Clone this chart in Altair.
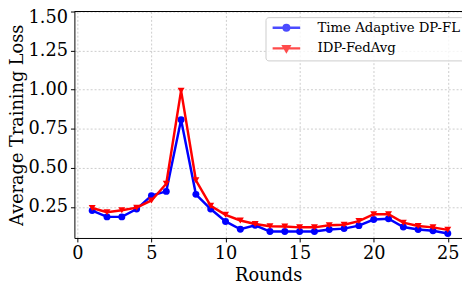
import altair as alt
import pandas as pd

rounds = list(range(1, 26))
time_adaptive = [0.227, 0.187, 0.187, 0.237, 0.323, 0.350, 0.808, 0.331, 0.237, 0.158,
                 0.108, 0.133, 0.093, 0.093, 0.093, 0.093, 0.106, 0.112, 0.131, 0.170,
                 0.175, 0.122, 0.106, 0.098, 0.081]
idp_fedavg = [0.244, 0.217, 0.229, 0.246, 0.292, 0.399, 0.994, 0.421, 0.258, 0.200,
              0.164, 0.141, 0.127, 0.125, 0.120, 0.120, 0.133, 0.137, 0.160, 0.204,
              0.204, 0.150, 0.129, 0.120, 0.104]
series_names = ["Time Adaptive DP-FL", "IDP-FedAvg"]
colors = ["#0000ff", "#ff0000"]
shapes = ["circle", "triangle-down"]
x_ticks = [0, 5, 10, 15, 20, 25]
y_ticks = [0.25, 0.5, 0.75, 1.0, 1.25, 1.5]

# legend glyphs: a short line with the marker in its middle (unit coordinates)
legend_glyphs = [
    "M-4,0H4M-0.8,0A0.8,0.8,0,1,1,0.8,0A0.8,0.8,0,1,1,-0.8,0Z",
    "M-4,0H4M-0.85,-0.6L0.85,-0.6L0,0.85Z",
]

rows = []
for name, vals in zip(series_names, [time_adaptive, idp_fedavg]):
    for r, v in zip(rounds, vals):
        rows.append({"round": r, "loss": v, "series": name})
df = pd.DataFrame(rows)

FONT = "DejaVu Serif"

x_enc = alt.X("round:Q",
              scale=alt.Scale(domain=[-0.2, 25.96], nice=False, zero=False),
              axis=alt.Axis(values=x_ticks, format="d", title="Rounds",
                            labelPadding=3))
y_enc = alt.Y("loss:Q",
              scale=alt.Scale(domain=[0.052, 1.5], nice=False, zero=False),
              axis=alt.Axis(values=y_ticks, format=".2f", title="Average Training Loss",
                            titlePadding=2, labelPadding=3, labelFlush=True,
                            labelFlushOffset=3))

legend = alt.Legend(orient="none", legendX=194.25, legendY=5.7, title=None,
                    symbolSize=49, symbolStrokeWidth=2.5, symbolOffset=10.5,
                    labelOffset=24.75,
                    labelFontSize=13.5, labelFont=FONT, labelColor="black",
                    fillColor="rgba(255,255,255,0.8)", strokeColor="#cccccc",
                    cornerRadius=3, padding=4, rowPadding=5)

stroke_enc = alt.Stroke("series:N", scale=alt.Scale(domain=series_names, range=colors),
                        legend=legend)
fill_enc = alt.Fill("series:N", scale=alt.Scale(domain=series_names, range=colors),
                    legend=legend)
shape_enc = alt.Shape("series:N", scale=alt.Scale(domain=series_names, range=legend_glyphs),
                      legend=legend)

base = alt.Chart(df)
layers = []
for name, shp in zip(series_names, shapes):
    sub = base.transform_filter(alt.datum.series == name)
    layers.append(sub.mark_line(strokeWidth=2.5).encode(x=x_enc, y=y_enc, stroke=stroke_enc))
    layers.append(sub.mark_point(filled=True, size=50, opacity=1, shape=shp).encode(
        x=x_enc, y=y_enc, fill=fill_enc))

# carries only the legend glyph scale; draws no marks
legend_layer = base.transform_filter("false").mark_point(filled=True).encode(
    x=x_enc, y=y_enc, fill=fill_enc, stroke=stroke_enc, shape=shape_enc)

top_spine = alt.Chart(pd.DataFrame({"y": [1.5]})).mark_rule(color="black", strokeWidth=1.2).encode(
    y=alt.Y("y:Q"))

chart = alt.layer(*layers, legend_layer, top_spine).properties(
    width=394, height=230.2,
    autosize=alt.AutoSizeParams(type="none"),
    padding={"left": 67.5, "top": 1.3, "right": 0, "bottom": 45.5},
).configure_view(stroke=None).configure_axis(
    labelFont=FONT, titleFont=FONT, labelFontSize=18, titleFontSize=18,
    titleFontWeight="normal", labelColor="black", titleColor="black",
    domainColor="black", domainWidth=1, tickColor="black", tickSize=4, tickWidth=1,
    gridColor="#b0b0b0", gridDash=[2, 2], gridWidth=0.8, gridOpacity=0.8,
)

chart.save("out.html", embed_options={"renderer": "svg", "actions": False})
